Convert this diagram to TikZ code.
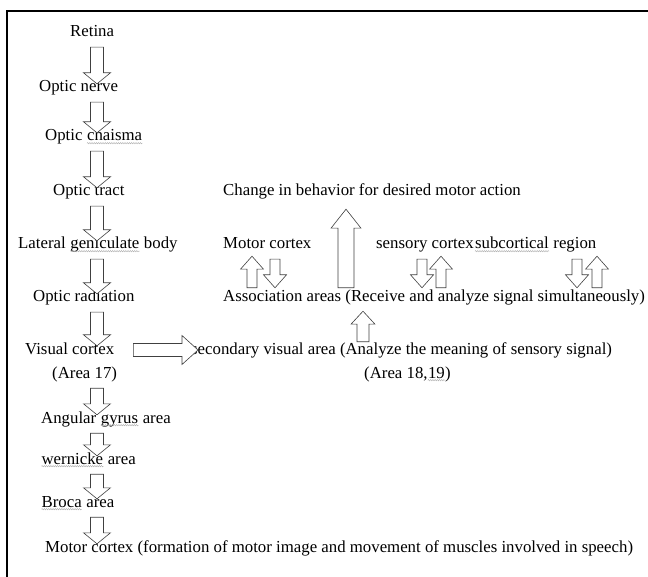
\documentclass[tikz,border=0pt]{standalone}
\usepackage{fontspec}
\setmainfont{Liberation Serif}
\usetikzlibrary{calc,decorations.pathmorphing}

% spell-check squiggle under a word
\newcommand\spell[1]{\tikz[baseline=(sw.base)]{\node[inner sep=0pt,anchor=base] (sw) {#1};
  \draw[gray!65,line width=0.4pt,decorate,decoration={snake,amplitude=0.7pt,segment length=2.2pt}]
    ([yshift=-2.2pt]sw.base west) -- ([yshift=-2.2pt]sw.base east);}}

\tikzset{
  blk shaft/.store in=\blkshaft, blk head/.store in=\blkhead, blk len/.store in=\blklen,
  blk from/.store in=\blkfrom, blk to/.store in=\blkto,
  blk shaft=6.5pt, blk head=13.5pt, blk len=11pt, blk from=6pt, blk to=-4pt,
  blk/.style={draw=black!75,fill=white,line width=0.6pt,line join=miter,
    to path={
      ($(\tikztostart)!\blkfrom!(\tikztotarget)$) coordinate (bs)
      ($(\tikztotarget)!\blkto!(\tikztostart)$) coordinate (bt)
      ($(bt)!\blklen!(bs)$) coordinate (bh)
      ($(bs)!\blkshaft!90:(bt)$) -- ($(bh)!\blkshaft!-90:(bs)$)
      -- ($(bh)!\blkhead!-90:(bs)$) -- (bt) -- ($(bh)!\blkhead!90:(bs)$)
      -- ($(bh)!\blkshaft!90:(bs)$) -- ($(bs)!\blkshaft!-90:(bt)$) -- cycle}},
  sblk/.style={blk,blk shaft=5pt,blk head=11.5pt,blk len=13pt,blk from=2pt,blk to=2pt}
}

\begin{document}
\begin{tikzpicture}[
  x=1pt, y=-1pt,
  txt/.style={inner sep=0pt,text height=12pt,text depth=4pt,anchor=west,
    font=\fontsize{16.8}{20}\selectfont}
]
  \useasboundingbox (0,0) rectangle (648,577);
  \draw[line width=2.5pt,line join=miter] (7,578) -- (7,11) -- (649,11);

  % visual pathway
  \node[txt] (retina) at (70,33) {Retina};
  \node[txt] (nerve) at (39,88) {Optic nerve};
  \node[txt] (chiasma) at (45,137) {Optic \spell{chaisma}};
  \node[txt] (tract) at (53,192) {Optic tract};
  \node[txt] (lgb) at (18,245) {Lateral \spell{geniculate} body};
  \node[txt] (radiation) at (33,298) {Optic radiation};
  \node[txt] (visual) at (25,350) {Visual cortex};
  \node[txt] (area17) at (52,374) {(Area 17)};
  \node[txt] (angular) at (41,419) {Angular \spell{gyrus} area};
  \node[txt] (wernicke) at (41,460) {\spell{wernicke} area};
  \node[txt] (broca) at (41,503) {\spell{Broca} area};
  \node[txt] (speech) at (45,548) {Motor cortex (formation of motor image and movement of muscles involved in speech)};

  % association side
  \node[txt] (change) at (223,192) {Change in behavior for desired motor action};
  \node[txt] (motor) at (223,245) {Motor cortex};
  \node[txt] (sensory) at (376,245) {sensory cortex\hspace{1pt}\spell{subcortical} region};
  \node[txt] (assoc) at (223,298) {Association areas (Receive and analyze signal simultaneously)};
  \node[txt] (secondary) at (191,350) {secondary visual area (Analyze the meaning of sensory signal)};
  \node[txt] (area1819) at (364,374) {(Area 18,\spell{19})};

  \coordinate (ax) at (97,0);
  \coordinate (mc1) at (252,0);
  \coordinate (mc2) at (275,0);
  \coordinate (bx) at (346,0);
  \coordinate (sx) at (363,0);
  \coordinate (sc1) at (422,0);
  \coordinate (sc2) at (441,0);
  \coordinate (rc1) at (577,0);
  \coordinate (rc2) at (597,0);

  \draw[blk] (ax |- retina.south) to (ax |- nerve.north);
  \draw[blk] (ax |- nerve.south) to (ax |- chiasma.north);
  \draw[blk] (ax |- chiasma.south) to (ax |- tract.north);
  \draw[blk] (ax |- tract.south) to (ax |- lgb.north);
  \draw[blk] (ax |- lgb.south) to (ax |- radiation.north);
  \draw[blk] (ax |- radiation.south) to (ax |- visual.north);
  \draw[blk] (ax |- area17.south) to (ax |- angular.north);
  \draw[blk] (ax |- angular.south) to (ax |- wernicke.north);
  \draw[blk] (ax |- wernicke.south) to (ax |- broca.north);
  \draw[blk] (ax |- broca.south) to (ax |- speech.north);

  \draw[blk,blk shaft=6.5pt,blk head=14.5pt,blk len=16pt,blk from=19pt,blk to=-7pt]
    (visual.east) to (visual.east -| secondary.west);
  \draw[sblk,blk shaft=6pt,blk head=12pt,blk from=0pt,blk to=5pt]
    (sx |- secondary.north) to (sx |- assoc.south);
  \draw[blk,blk shaft=8pt,blk head=15pt,blk len=19pt,blk from=2pt,blk to=9pt]
    (bx |- assoc.north) to (bx |- change.south);

  \draw[sblk,blk to=3pt] (mc1 |- assoc.north) to (mc1 |- motor.south);
  \draw[sblk,blk from=6pt] (mc2 |- motor.south) to (mc2 |- assoc.north);
  \draw[sblk,blk from=6pt] (sc1 |- sensory.south) to (sc1 |- assoc.north);
  \draw[sblk,blk to=3pt] (sc2 |- assoc.north) to (sc2 |- sensory.south);
  \draw[sblk,blk from=6pt] (rc1 |- sensory.south) to (rc1 |- assoc.north);
  \draw[sblk,blk to=3pt] (rc2 |- assoc.north) to (rc2 |- sensory.south);
\end{tikzpicture}
\end{document}
